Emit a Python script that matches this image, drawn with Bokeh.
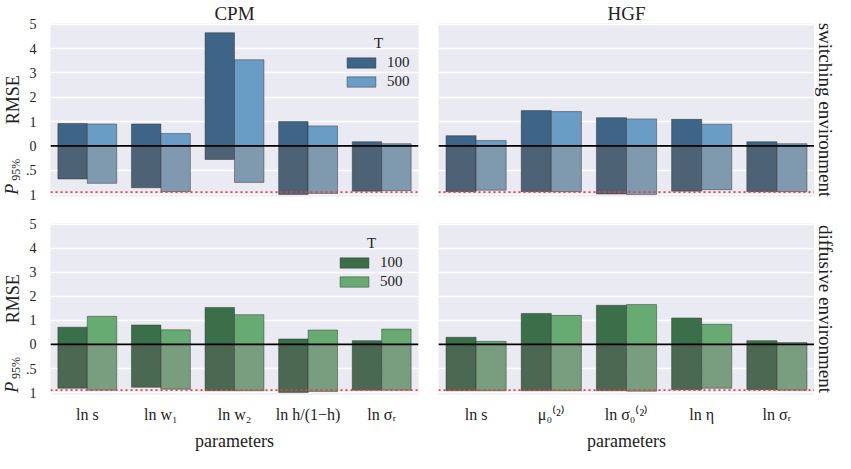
import math
from bokeh.plotting import figure
from bokeh.models import (FactorRange, Range1d, Span, Label, Legend, LegendItem,
                          FixedTicker, ColumnDataSource)
from bokeh.transform import dodge
from bokeh.layouts import column, row
from bokeh.embed import file_html
from bokeh.resources import INLINE
from bokeh.core.properties import value

# ---------------- data ----------------
cpm_params = ["ln s", "ln w\u2081", "ln w\u2082", "ln h/(1\u2212h)", "ln \u03c3\u1d63"]
hgf_params = ["ln s", "\u03bc\u2080\u207d\u00b2\u207e", "ln \u03c3\u2080\u207d\u00b2\u207e", "ln \u03b7", "ln \u03c3\u1d63"]
T_labels = ["100", "500"]
models = ["CPM", "HGF"]
environments = ["switching environment", "diffusive environment"]

y_ticks = [-2, -1, 0, 1, 2, 3, 4, 5]
y_tick_labels = ["1", ".5", "0", "1", "2", "3", "4", "5"]
p_target = 0.95

# switching environment
sw_cpm_rmse_100 = [0.92, 0.90, 4.65, 1.00, 0.17]
sw_cpm_rmse_500 = [0.90, 0.51, 3.54, 0.82, 0.09]
sw_cpm_p_100 = [0.68, 0.86, 0.28, 1.00, 0.93]
sw_cpm_p_500 = [0.77, 0.94, 0.75, 0.98, 0.92]

sw_hgf_rmse_100 = [0.42, 1.45, 1.16, 1.09, 0.17]
sw_hgf_rmse_500 = [0.22, 1.41, 1.11, 0.89, 0.09]
sw_hgf_p_100 = [0.94, 0.94, 0.99, 0.93, 0.94]
sw_hgf_p_500 = [0.91, 0.94, 1.00, 0.90, 0.94]

# diffusive environment
df_cpm_rmse_100 = [0.72, 0.81, 1.54, 0.23, 0.16]
df_cpm_rmse_500 = [1.17, 0.61, 1.24, 0.60, 0.64]
df_cpm_p_100 = [0.91, 0.89, 0.96, 1.00, 0.95]
df_cpm_p_500 = [0.95, 0.93, 0.96, 0.98, 0.95]

df_hgf_rmse_100 = [0.30, 1.29, 1.63, 1.10, 0.16]
df_hgf_rmse_500 = [0.13, 1.21, 1.66, 0.84, 0.08]
df_hgf_p_100 = [0.96, 0.96, 0.96, 0.94, 0.94]
df_hgf_p_500 = [0.96, 0.96, 0.97, 0.91, 0.95]

# ---------------- style / layout ----------------
FONT = "Liberation Serif"
TXT = "#222222"
BG = "#eaeaf2"
BLUE = ("#3e6587", "#6a9dc5", "#4e6276", "#7f9aaf")
GREEN = ("#3b6f4a", "#67ab73", "#4a6852", "#789d7f")
FW, FH = 376, 175
Y0, Y1 = -2.08, 5.03
LS_W, RS_W = 22, 21          # label strips
AX_L, GAP = 20, 10           # left axis border, half gap between columns
TITLE_EST = 21               # approx. height of the title panel
TOP_BB = 8
BOT_B, BOT_BB = 19, 55
TOP_H = TITLE_EST + FH + TOP_BB
BOT_H = BOT_B + FH + BOT_BB


def set_title(p, text, alpha=1.0):
    p.title.text = text
    p.title.align = "center"
    p.title.text_font = FONT
    p.title.text_font_size = "19px"
    p.title.text_font_style = "normal"
    p.title.text_color = TXT
    p.title.text_alpha = alpha
    p.title.standoff = 0


def bare(width, height, xr, yr, bt=0, bb=0):
    p = figure(width=width, height=height, x_range=xr, y_range=yr,
               min_border_left=0, min_border_right=0, min_border_top=bt, min_border_bottom=bb,
               x_axis_location=None, y_axis_location=None,
               output_backend="svg", toolbar_location=None)
    p.outline_line_color = None
    p.background_fill_color = "white"
    p.border_fill_color = "white"
    p.grid.visible = False
    return p


def panel(params, r100, r500, p100, p500, colors, left, top_row, title=None, legend_xy=None):
    bl = AX_L if left else GAP
    br = GAP if left else 0
    bt, bb, h = (0, TOP_BB, TOP_H) if top_row else (BOT_B, BOT_BB, BOT_H)
    p = figure(x_range=FactorRange(*params), y_range=Range1d(Y0, Y1),
               width=bl + FW + br, height=h,
               min_border_left=bl, min_border_right=br,
               min_border_top=bt, min_border_bottom=bb,
               output_backend="svg", toolbar_location=None)
    if title:
        set_title(p, title)
    p.extra_y_ranges = {"p": Range1d(-Y0 / 2, -Y1 / 2)}
    p.background_fill_color = BG
    p.border_fill_color = "white"
    p.outline_line_color = None
    p.xgrid.visible = False
    ticker = FixedTicker(ticks=y_ticks)
    p.yaxis.ticker = ticker
    p.ygrid.ticker = ticker
    p.ygrid.grid_line_color = "white"
    p.ygrid.grid_line_width = 1.4
    p.yaxis.major_label_overrides = {t: l for t, l in zip(y_ticks, y_tick_labels)}
    for ax in (p.xaxis[0], p.yaxis[0]):
        ax.axis_line_color = None
        ax.major_tick_line_color = None
        ax.minor_tick_line_color = None
        ax.major_label_text_font = FONT
        ax.major_label_text_color = TXT
    p.yaxis.major_label_text_font_size = "14px"
    p.yaxis.major_label_standoff = 8
    p.xaxis.major_label_text_font_size = "16px"
    p.xaxis.major_label_standoff = 5
    if not left:
        p.yaxis.visible = False
    if top_row:
        p.xaxis.visible = False
    else:
        p.xaxis.axis_label = "parameters"
        p.xaxis.axis_label_text_font = FONT
        p.xaxis.axis_label_text_font_style = "normal"
        p.xaxis.axis_label_text_font_size = "18px"
        p.xaxis.axis_label_text_color = TXT
        p.xaxis.axis_label_standoff = 5

    src = ColumnDataSource(dict(param=params, r100=r100, r500=r500, p100=p100, p500=p500))
    dark, light, ndark, nlight = colors
    edge = dict(line_color="#2a2a2a", line_alpha=0.45, line_width=1)
    p.vbar(x=dodge("param", -0.2, range=p.x_range), top=0, bottom="p100", width=0.4,
           y_range_name="p", source=src, fill_color=ndark, **edge)
    p.vbar(x=dodge("param", 0.2, range=p.x_range), top=0, bottom="p500", width=0.4,
           y_range_name="p", source=src, fill_color=nlight, **edge)
    ra = p.vbar(x=dodge("param", -0.2, range=p.x_range), top="r100", bottom=0, width=0.4,
                source=src, fill_color=dark, **edge)
    rb = p.vbar(x=dodge("param", 0.2, range=p.x_range), top="r500", bottom=0, width=0.4,
                source=src, fill_color=light, **edge)

    p.add_layout(Span(location=0, dimension="width", line_color="black", line_width=1.8))
    p.add_layout(Span(location=p_target, dimension="width", y_range_name="p",
                      line_color="#e8413c", line_width=1.6, line_dash="2 3"))

    if legend_xy:
        lx, ly, tx, ty = legend_xy
        leg = Legend(items=[LegendItem(label=T_labels[0], renderers=[ra]),
                            LegendItem(label=T_labels[1], renderers=[rb])],
                     location=(lx, ly), border_line_color=None, background_fill_alpha=0,
                     label_text_font=FONT, label_text_font_size="15px",
                     label_text_color=TXT,
                     glyph_width=36, glyph_height=13, label_height=13, spacing=2,
                     label_standoff=8, padding=0, margin=0)
        p.add_layout(leg)
        p.add_layout(Label(x=tx, y=ty, x_units="screen", y_units="screen", text="T",
                           text_align="center", text_baseline="alphabetic",
                           text_font=FONT, text_font_size="15px", text_color=TXT))
    return p


def left_strip(top_row):
    bt, bb, h = (0, TOP_BB, TOP_H) if top_row else (BOT_B, BOT_BB, BOT_H)
    s = bare(LS_W, h, Range1d(0, LS_W), Range1d(Y0, Y1), bt, bb)
    if top_row:
        set_title(s, models[0], alpha=0)
    kw = dict(angle=math.pi / 2, text_align="center", text_baseline="alphabetic",
              text_font=value(FONT), text_color=TXT)
    s.text(x=[12], y=[1.9], text=["RMSE"], text_font_size="18px", **kw)
    s.text(x=[11.5], y=[-1.78], text=["P"], text_font_size="18px",
           text_font_style="italic", **kw)
    s.text(x=[15.5], y=[-0.98], text=["95%"], text_font_size="12px", **kw)
    return s


def right_strip(top_row, label):
    bt, bb, h = (0, TOP_BB, TOP_H) if top_row else (BOT_B, BOT_BB, BOT_H)
    s = bare(RS_W, h, Range1d(0, RS_W), Range1d(Y0, Y1), bt, bb)
    if top_row:
        set_title(s, models[1], alpha=0)
    s.text(x=[11], y=[(Y0 + Y1) / 2], text=[label], angle=-math.pi / 2, text_align="center",
           text_baseline="alphabetic", text_font=value(FONT), text_font_size="19px",
           text_color=TXT)
    return s


p1 = panel(cpm_params, sw_cpm_rmse_100, sw_cpm_rmse_500, sw_cpm_p_100, sw_cpm_p_500, BLUE,
           True, True, title=models[0], legend_xy=(293, 106, 328, 154))
p2 = panel(hgf_params, sw_hgf_rmse_100, sw_hgf_rmse_500, sw_hgf_p_100, sw_hgf_p_500, BLUE,
           False, True, title=models[1])
p3 = panel(cpm_params, df_cpm_rmse_100, df_cpm_rmse_500, df_cpm_p_100, df_cpm_p_500, GREEN,
           True, False, legend_xy=(286, 104, 321, 152))
p4 = panel(hgf_params, df_hgf_rmse_100, df_hgf_rmse_500, df_hgf_p_100, df_hgf_p_500, GREEN,
           False, False)

layout = column(
    row(left_strip(True), p1, p2, right_strip(True, environments[0])),
    row(left_strip(False), p3, p4, right_strip(False, environments[1])),
)
open("out.html", "w").write(file_html(layout, INLINE))
